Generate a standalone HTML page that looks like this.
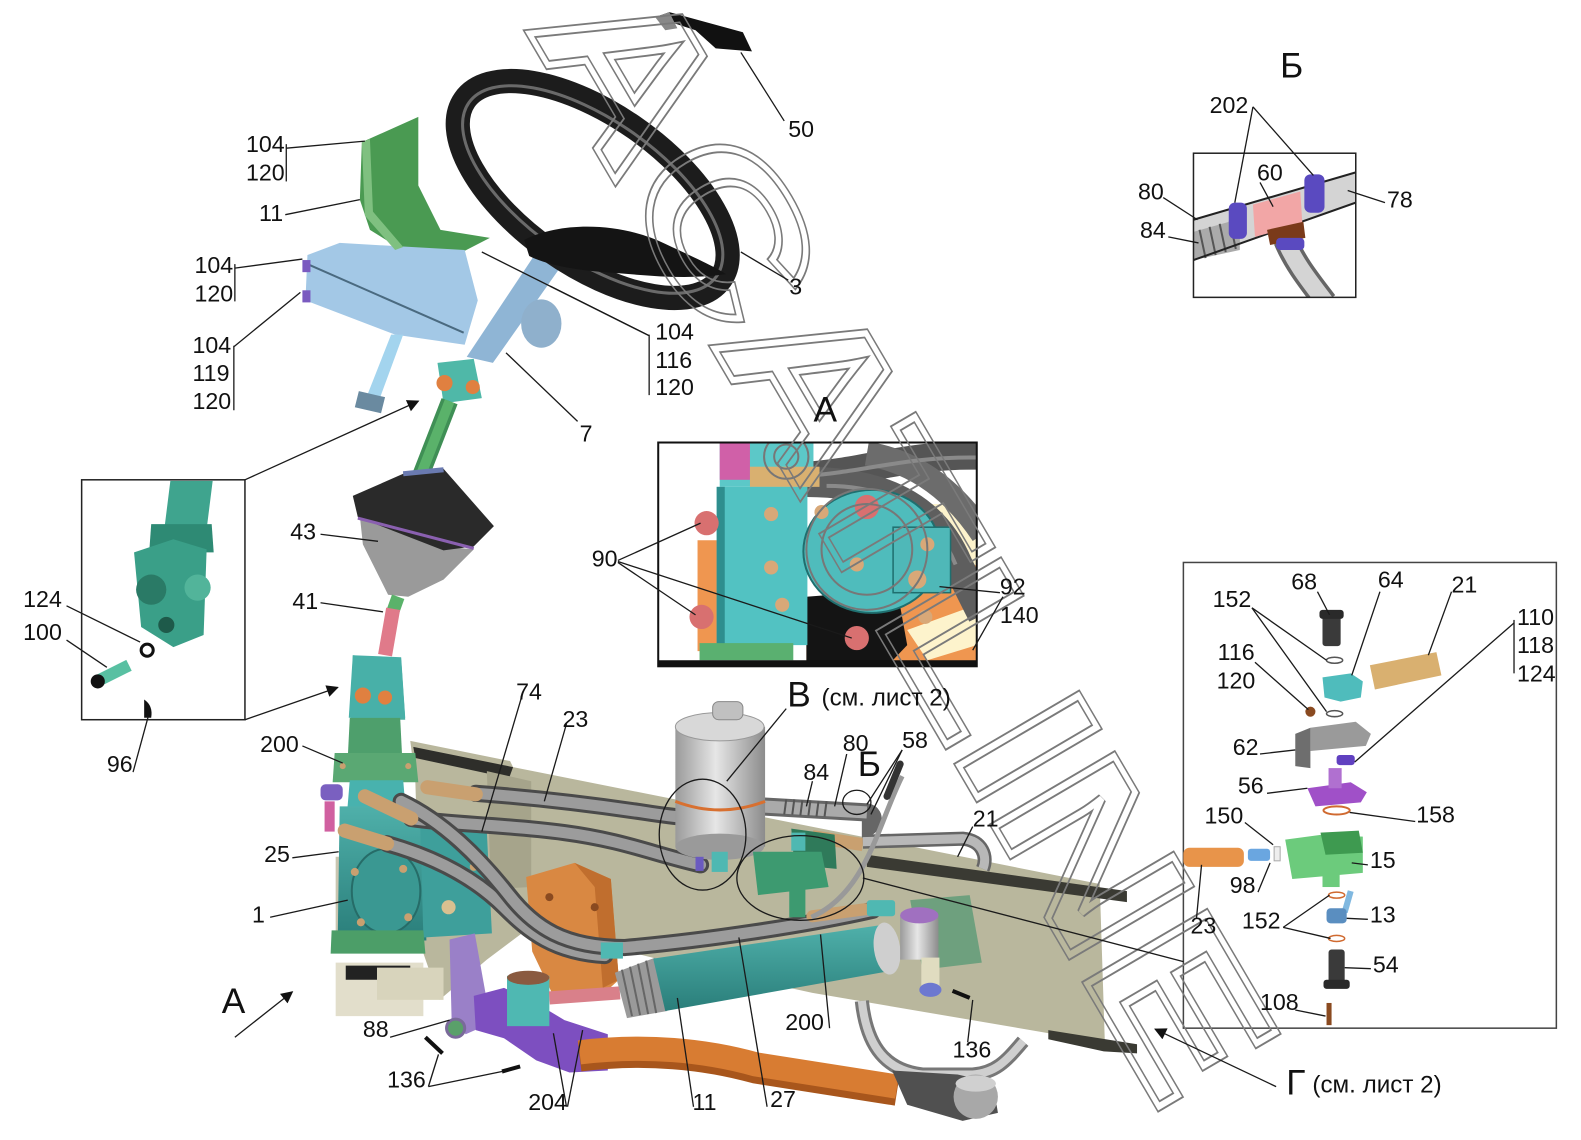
<!DOCTYPE html>
<html><head><meta charset="utf-8"><style>
html,body{margin:0;padding:0;background:#fff;}
svg{display:block;}
.n,.b,.s{font-family:"Liberation Sans",Arial,sans-serif;fill:#111;}
.n{font-size:23px;}
.b{font-size:35px;}
.s{font-size:24px;}
.l{stroke:#1a1a1a;stroke-width:1.3;fill:none;}
</style></head><body>
<svg width="1581" height="1140" viewBox="0 0 1581 1140" xmlns="http://www.w3.org/2000/svg">
<defs>
<marker id="ar" viewBox="0 0 10 10" refX="9" refY="5" markerWidth="14" markerHeight="12" orient="auto" markerUnits="userSpaceOnUse"><path d="M0,0 L10,5 L0,10 z" fill="#111"/></marker>
<linearGradient id="cyl" x1="0" y1="0" x2="1" y2="0"><stop offset="0" stop-color="#9a9a9a"/><stop offset="0.45" stop-color="#e6e6e6"/><stop offset="1" stop-color="#8c8c8c"/></linearGradient>
<linearGradient id="tl" x1="0" y1="0" x2="0" y2="1"><stop offset="0" stop-color="#4fb0aa"/><stop offset="1" stop-color="#2a7e7a"/></linearGradient>
<clipPath id="cA"><rect x="653" y="439" width="316" height="222"/></clipPath>
<clipPath id="cB"><rect x="1184" y="152" width="161" height="143"/></clipPath>
<mask id="wm" maskUnits="userSpaceOnUse" x="0" y="0" width="1600" height="1160">
<rect x="0" y="0" width="1600" height="1160" style="fill:#000"/>
<text x="0" y="0" transform="translate(522,28) rotate(59.6)" font-family="Liberation Sans, sans-serif" font-weight="bold" font-size="200" textLength="1250" lengthAdjust="spacingAndGlyphs" style="fill:none;stroke:#fff;stroke-width:8">ACATLINE</text>
<text x="0" y="0" transform="translate(522,28) rotate(59.6)" font-family="Liberation Sans, sans-serif" font-weight="bold" font-size="200" textLength="1250" lengthAdjust="spacingAndGlyphs" style="fill:none;stroke:#000;stroke-width:5">ACATLINE</text>
</mask>
</defs>
<rect width="1581" height="1140" fill="#fff"/>
<g transform="scale(1.008)">

<!-- ================= FRAME BEAM ================= -->
<polygon points="407,735 506,755 509,761 1091,877 1096,1032 1052,1027 806,985 655,952 615,942 523,922 483,952 436,992 417,937 412,774" fill="#b9b79d"/>
<polygon points="410,741 509,761 505,772 412,752" fill="#2e2e2a"/>
<polygon points="860,848 1118,884 1118,895 860,860" fill="#3a3a33"/>
<polygon points="1040,1022 1128,1036 1128,1045 1095,1043 1040,1031" fill="#3a3a33"/>
<polygon points="483,765 527,775 527,880 487,882" fill="#a6a48b"/>
<polygon points="333,955 420,955 420,1008 333,1008" fill="#e2decb"/>
<polygon points="343,958 407,958 407,972 343,972" fill="#222"/>
<polygon points="374,960 440,960 440,992 374,992" fill="#d8d4bc"/>
<polygon points="333,850 343,850 343,935 333,935" fill="#c9c5b0"/>

<!-- orange bracket -->
<polygon points="522,870 570,856 606,872 614,972 592,992 548,986 528,944" fill="#d98842"/>
<polygon points="570,856 606,872 614,972 598,980 590,880" fill="#c06e2e"/>
<circle cx="545" cy="890" r="4" fill="#8a4a20"/><circle cx="590" cy="900" r="4" fill="#8a4a20"/><circle cx="595" cy="950" r="4" fill="#8a4a20"/>

<!-- silver pipe -->
<path d="M855,993 C860,1040 880,1062 915,1066 L965,1066 C990,1064 1000,1050 1015,1033" fill="none" stroke="#777" stroke-width="14"/>
<path d="M855,993 C860,1040 880,1062 915,1066 L965,1066 C990,1064 1000,1050 1015,1033" fill="none" stroke="#cfcfcf" stroke-width="8"/>

<!-- ================= STEERING GEAR ================= -->
<polygon points="350,650 398,655 402,714 348,714" fill="#4bb0a4"/>
<polygon points="347,712 397,712 399,752 345,752" fill="#4e9f6c"/>
<polygon points="332,747 412,747 415,776 330,776" fill="#5aa873"/>
<polygon points="347,774 400,774 404,822 343,822" fill="#48b2ae"/>
<polygon points="337,800 420,800 423,933 335,933" fill="url(#tl)"/>
<polygon points="417,820 483,826 488,926 420,930" fill="#3e9f9b"/>
<ellipse cx="383" cy="884" rx="34" ry="42" fill="#3a9892" stroke="#266c68" stroke-width="2"/>
<polygon points="329,923 420,923 422,946 328,946" fill="#4c9e68"/>
<circle cx="352" cy="865" r="4" fill="#c9a070"/><circle cx="400" cy="862" r="4" fill="#c9a070"/><circle cx="358" cy="915" r="4" fill="#c9a070"/><circle cx="405" cy="910" r="4" fill="#c9a070"/><circle cx="445" cy="900" r="7" fill="#d8c090"/><circle cx="470" cy="860" r="4" fill="#c9a070"/>
<circle cx="340" cy="760" r="3" fill="#c9a070"/><circle cx="405" cy="760" r="3" fill="#c9a070"/>
<rect x="318" y="778" width="22" height="16" rx="5" fill="#7a60c0"/>
<rect x="322" y="795" width="10" height="30" fill="#d060a0"/>

<!-- pitman arm & knuckle -->
<polygon points="446,932 471,926 487,1015 462,1026 448,1010" fill="#9a80c8"/>
<polygon points="470,988 500,980 530,994 560,1012 603,1026 603,1062 565,1064 532,1052 500,1030 472,1022" fill="#7d4fc0"/>
<circle cx="452" cy="1020" r="9" fill="#5aa06a" stroke="#7a6a9a" stroke-width="3"/>
<rect x="503" y="968" width="42" height="50" fill="#4fb8b2"/>
<ellipse cx="524" cy="970" rx="21" ry="7" fill="#8a5a40"/>
<line x1="545" y1="990" x2="615" y2="985" stroke="#d9808a" stroke-width="13"/>

<!-- ================= HOSES ================= -->
<g fill="none" stroke-linecap="round">
<path d="M472,787 C540,792 600,800 640,806 S690,812 700,812" stroke="#4a4a4a" stroke-width="17"/>
<path d="M472,787 C540,792 600,800 640,806 S690,812 700,812" stroke="#9c9c9c" stroke-width="11"/>
<path d="M408,812 C450,818 500,818 560,826 S650,848 695,858" stroke="#4a4a4a" stroke-width="17"/>
<path d="M408,812 C450,818 500,818 560,826 S650,848 695,858" stroke="#9c9c9c" stroke-width="11"/>
<path d="M384,837 C430,850 470,870 500,900 C525,925 550,945 600,948" stroke="#4a4a4a" stroke-width="17"/>
<path d="M384,837 C430,850 470,870 500,900 C525,925 550,945 600,948" stroke="#9c9c9c" stroke-width="11"/>
<path d="M398,795 C440,815 475,850 505,888 C530,920 560,940 620,940 C700,933 800,918 866,903" stroke="#4a4a4a" stroke-width="17"/>
<path d="M398,795 C440,815 475,850 505,888 C530,920 560,940 620,940 C700,933 800,918 866,903" stroke="#9c9c9c" stroke-width="11"/>
<path d="M424,781 L472,788" stroke="#c9a070" stroke-width="14"/>
<path d="M362,790 L408,812" stroke="#c9a070" stroke-width="14"/>
<path d="M342,824 L384,837" stroke="#c9a070" stroke-width="14"/>
<path d="M806,909 L858,902" stroke="#c9a070" stroke-width="12"/>
</g>
<rect x="860" y="893" width="28" height="16" rx="3" fill="#4fb8b2"/>
<rect x="596" y="935" width="22" height="16" fill="#4fb8b2"/>

<!-- ================= POWER CYLINDER ================= -->
<polygon points="610,965 650,950 662,1003 622,1010" fill="#9a9a9a"/>
<g stroke="#666" stroke-width="2"><line x1="617" y1="962" x2="627" y2="1008"/><line x1="625" y1="959" x2="635" y2="1007"/><line x1="633" y1="956" x2="643" y2="1006"/><line x1="641" y1="953" x2="651" y2="1005"/></g>
<polygon points="648,951 872,918 890,962 660,1003" fill="url(#tl)"/>
<ellipse cx="880" cy="941" rx="13" ry="26" fill="#cfcfcf" transform="rotate(-8 880 941)"/>

<!-- tie rod -->
<path d="M575,1048 C640,1040 700,1046 750,1060 L890,1082" fill="none" stroke="#a8561c" stroke-width="30"/>
<path d="M575,1044 C640,1036 700,1042 750,1056 L890,1078" fill="none" stroke="#d87c32" stroke-width="24"/>
<polygon points="885,1062 950,1066 985,1074 990,1104 955,1112 900,1096" fill="#505050"/>
<ellipse cx="968" cy="1088" rx="22" ry="22" fill="#a8a8a8"/>
<ellipse cx="968" cy="1075" rx="20" ry="8" fill="#d0d0d0"/>

<!-- ================= FILTER & VALVE ================= -->
<path d="M756,800 L860,806 C870,808 866,822 855,822" fill="none" stroke="#666" stroke-width="18"/>
<path d="M756,800 L860,806" fill="none" stroke="#aaa" stroke-width="12"/>
<g stroke="#555" stroke-width="2"><line x1="780" y1="793" x2="778" y2="808"/><line x1="788" y1="793" x2="786" y2="808"/><line x1="796" y1="794" x2="794" y2="809"/><line x1="804" y1="794" x2="802" y2="809"/><line x1="812" y1="795" x2="810" y2="810"/><line x1="820" y1="795" x2="818" y2="810"/></g>
<rect x="670" y="721" width="89" height="119" fill="url(#cyl)"/>
<ellipse cx="714" cy="840" rx="44" ry="13" fill="#9a9a9a"/>
<ellipse cx="714" cy="721" rx="44" ry="14" fill="#d8d8d8" stroke="#999"/>
<rect x="707" y="696" width="30" height="18" rx="6" fill="#c0c0c0" stroke="#888"/>
<path d="M670,795 Q714,812 759,795" fill="none" stroke="#d87030" stroke-width="3"/>
<rect x="706" y="845" width="16" height="20" fill="#4fb8b2"/>
<rect x="690" y="850" width="8" height="14" fill="#6a5ac0"/>
<path d="M806,830 L856,838" stroke="#c9a070" stroke-width="13"/>
<path d="M856,835 L955,832 C975,834 980,850 975,862" fill="none" stroke="#666" stroke-width="14"/>
<path d="M856,835 L955,832 C975,834 980,850 975,862" fill="none" stroke="#b8b8b8" stroke-width="9"/>
<polygon points="785,822 828,828 830,862 788,858" fill="#2f7a5a"/>
<polygon points="747,845 815,845 822,880 752,888" fill="#3d9a70"/>
<rect x="783" y="880" width="16" height="30" fill="#3d9a70"/>
<rect x="785" y="826" width="14" height="18" fill="#4fb8b2"/>
<path d="M805,910 C860,885 870,820 895,770" fill="none" stroke="#999" stroke-width="5"/>
<path d="M880,790 L893,758" stroke="#333" stroke-width="7" stroke-linecap="round"/>

<!-- pump -->
<polygon points="903,893 962,888 974,955 915,962" fill="#6ea07e"/>
<rect x="893" y="908" width="38" height="44" fill="url(#cyl)"/>
<ellipse cx="912" cy="908" rx="19" ry="8" fill="#a070c0"/>
<rect x="914" y="950" width="18" height="28" fill="#e0dcc0"/>
<ellipse cx="923" cy="982" rx="11" ry="7" fill="#6d78d0"/>
<line x1="945" y1="983" x2="962" y2="990" stroke="#111" stroke-width="4"/>

<!-- ================= COLUMN ================= -->
<polygon points="357,198 367,228 402,250 451,254 486,236 437,228 415,184 415,116 359,141" fill="#4a9a52"/>
<polygon points="305,253 337,241 461,248 474,298 461,342 392,332 303,298" fill="#a3c8e6"/>
<line x1="305" y1="262" x2="460" y2="330" stroke="#4a6a80" stroke-width="2"/>
<polygon points="359,141 367,138 370,210 400,245 392,248 362,214" fill="#7fc080"/>
<polygon points="388,332 400,332 375,400 362,398" fill="#a3d4ee"/>
<polygon points="356,388 382,394 378,410 352,404" fill="#6a8aa0"/>
<rect x="300" y="258" width="8" height="12" fill="#7a5ac0"/><rect x="300" y="288" width="8" height="12" fill="#7a5ac0"/>
<polygon points="529,255 556,265 489,360 463,354" fill="#8fb5d5"/>
<ellipse cx="537" cy="321" rx="20" ry="24" fill="#8fb0cc"/>
<polygon points="434,360 470,356 478,395 440,400" fill="#4fb8a8"/>
<circle cx="441" cy="380" r="8" fill="#e08040"/><circle cx="469" cy="384" r="7" fill="#e08040"/>
<line x1="446" y1="398" x2="418" y2="470" stroke="#3f8f55" stroke-width="17"/>
<line x1="446" y1="398" x2="418" y2="470" stroke="#5ab26a" stroke-width="10"/>

<!-- steering wheel -->
<ellipse cx="588" cy="188" rx="155" ry="74" transform="rotate(35 588 188)" fill="none" stroke="#1c1c1c" stroke-width="24"/>
<ellipse cx="588" cy="188" rx="150" ry="69" transform="rotate(35 588 188)" fill="none" stroke="#6a6a6a" stroke-width="3"/>
<path d="M520,238 C560,218 620,222 660,242 C690,256 712,266 720,272 C680,278 640,273 600,270 C570,268 540,262 525,254 Z" fill="#141414"/>
<polygon points="650,17 664,12 737,32 746,51 710,48 690,30" fill="#111"/>
<polygon points="650,17 664,12 672,28 660,30" fill="#888"/>

<!-- boot & box -->
<polygon points="357,512 440,542 470,545 440,575 405,592 385,590 360,540" fill="#9a9a9a"/>
<polygon points="350,492 400,470 440,465 490,522 470,542 440,546 355,513" fill="#2a2a2a"/>
<line x1="355" y1="514" x2="470" y2="544" stroke="#8a60b0" stroke-width="3"/>
<line x1="400" y1="470" x2="440" y2="466" stroke="#6a7ab0" stroke-width="5"/>
<line x1="395" y1="592" x2="390" y2="606" stroke="#5ab26a" stroke-width="13"/>
<line x1="390" y1="604" x2="382" y2="650" stroke="#e07a8a" stroke-width="14"/>
<polygon points="350,650 398,652 402,712 346,712" fill="#48b0a8"/>
<circle cx="360" cy="690" r="8" fill="#e08040"/><circle cx="382" cy="692" r="7" fill="#e08040"/>

<!-- ================= LEFT INSET ================= -->
<rect x="81" y="476" width="162" height="238" fill="#fff" stroke="#222" stroke-width="1.5"/>
<polygon points="169,477 211,477 205,525 163,525" fill="#3fa48e"/>
<polygon points="150,520 210,520 212,548 148,548" fill="#2e8a74"/>
<polygon points="133,548 172,535 205,545 202,630 172,642 140,622" fill="#3a9f88"/>
<circle cx="150" cy="585" r="15" fill="#2a7a66"/><circle cx="196" cy="583" r="13" fill="#52b49a"/>
<circle cx="165" cy="620" r="8" fill="#1e5a4a"/>
<circle cx="146" cy="645" r="6" fill="none" stroke="#111" stroke-width="3"/>
<line x1="98" y1="675" x2="128" y2="660" stroke="#58c0a2" stroke-width="12"/>
<circle cx="97" cy="676" r="7" fill="#111"/>
<path d="M143,694 Q152,700 150,712 L143,712 Z" fill="#111"/>

<!-- ================= INSET A ================= -->
<rect x="653" y="439" width="316" height="222" fill="#fff"/>
<g clip-path="url(#cA)">
<rect x="880" y="500" width="89" height="161" fill="#fdf3cc"/>
<polygon points="692,536 716,536 716,646 692,646" fill="#ef9650"/>
<polygon points="800,605 930,578 969,560 969,661 800,661" fill="#ef9650"/>
<polygon points="900,625 969,600 969,640 920,655" fill="#fdf3cc"/>
<polygon points="800,592 890,585 900,640 880,661 800,661" fill="#141414"/>
<path d="M800,472 C860,468 900,450 975,452" fill="none" stroke="#555" stroke-width="28"/>
<path d="M800,478 C870,478 925,500 950,560 L975,610" fill="none" stroke="#5e5e5e" stroke-width="30"/>
<path d="M860,450 C920,460 955,500 975,530" fill="none" stroke="#6c6c6c" stroke-width="24"/>
<path d="M800,472 C860,468 900,452 975,454" fill="none" stroke="#8a8a8a" stroke-width="4"/>
<path d="M820,482 C880,482 925,505 948,560" fill="none" stroke="#8a8a8a" stroke-width="4"/>
<rect x="714" y="439" width="93" height="44" fill="#5cc8c8"/>
<rect x="714" y="439" width="30" height="37" fill="#d060a8"/>
<rect x="744" y="463" width="69" height="20" fill="#d9b070"/>
<polygon points="711,483 801,483 801,640 711,640" fill="#52c2c2"/>
<rect x="711" y="483" width="8" height="157" fill="#2e8e8e"/>
<ellipse cx="865" cy="547" rx="68" ry="61" fill="#4fbcbc" stroke="#1f6f6f" stroke-width="2"/>
<rect x="886" y="523" width="57" height="65" fill="#4fb8b8" stroke="#1f6f6f" stroke-width="1.5"/>
<rect x="694" y="638" width="93" height="17" fill="#5ab070"/>
<rect x="653" y="655" width="316" height="6" fill="#111"/>
<g fill="#d87070"><circle cx="701" cy="519" r="12"/><circle cx="696" cy="612" r="12"/><circle cx="850" cy="633" r="12"/><circle cx="860" cy="503" r="12"/></g>
<g fill="#d8a878"><circle cx="765" cy="510" r="7"/><circle cx="765" cy="563" r="7"/><circle cx="776" cy="600" r="7"/><circle cx="815" cy="508" r="7"/><circle cx="850" cy="560" r="7"/><circle cx="920" cy="540" r="7"/><circle cx="910" cy="575" r="9"/><circle cx="918" cy="612" r="7"/></g>
<g fill="none" stroke="#777" stroke-width="2"><circle cx="780" cy="453" r="22"/><circle cx="780" cy="453" r="12"/><circle cx="860" cy="545" r="60"/><circle cx="860" cy="545" r="45"/></g>
</g>
<rect x="653" y="439" width="316" height="222" fill="none" stroke="#111" stroke-width="2"/>

<!-- ================= INSET Б ================= -->
<rect x="1184" y="152" width="161" height="143" fill="#fff"/>
<g clip-path="url(#cB)">
<path d="M1275,238 C1285,262 1300,280 1315,300" fill="none" stroke="#666" stroke-width="24"/>
<path d="M1275,238 C1285,262 1300,280 1315,300" fill="none" stroke="#d4d4d4" stroke-width="17"/>
<polygon points="1184,218 1345,171 1345,201 1184,258" fill="#d4d4d4"/>
<polygon points="1184,230 1230,217 1230,248 1184,258" fill="#aaa"/>
<g stroke="#555" stroke-width="2"><line x1="1190" y1="228" x2="1196" y2="256"/><line x1="1200" y1="225" x2="1206" y2="253"/><line x1="1210" y1="222" x2="1216" y2="250"/><line x1="1220" y1="219" x2="1226" y2="247"/></g>
<line x1="1184" y1="218" x2="1345" y2="171" stroke="#222" stroke-width="2"/>
<line x1="1184" y1="258" x2="1345" y2="201" stroke="#222" stroke-width="2"/>
<polygon points="1243,203 1290,190 1292,222 1245,235" fill="#f2a6a6"/>
<polygon points="1257,228 1293,220 1295,236 1260,243" fill="#7a3a1a"/>
<rect x="1219" y="201" width="18" height="36" rx="6" fill="#5a4ac0"/>
<rect x="1294" y="173" width="20" height="38" rx="6" fill="#5a4ac0"/>
<rect x="1266" y="236" width="28" height="12" rx="4" fill="#5a4ac0"/>
</g>
<rect x="1184" y="152" width="161" height="143" fill="none" stroke="#222" stroke-width="1.5"/>

<!-- ================= RIGHT INSET ================= -->
<rect x="1174" y="558" width="370" height="462" fill="#fff" stroke="#444" stroke-width="1.5"/>
<rect x="1312" y="608" width="18" height="33" rx="3" fill="#3a3a3a"/>
<rect x="1309" y="605" width="24" height="9" rx="3" fill="#2a2a2a"/>
<ellipse cx="1324" cy="655" rx="8" ry="3" fill="none" stroke="#555" stroke-width="1.5"/>
<polygon points="1312,672 1340,668 1352,676 1350,692 1330,696 1314,692" fill="#4fbcbc"/>
<polygon points="1359,660 1425,647 1430,670 1364,684" fill="#d9b070"/>
<ellipse cx="1300" cy="706" rx="5" ry="5" fill="#8a4a20"/>
<ellipse cx="1324" cy="708" rx="8" ry="3" fill="none" stroke="#555" stroke-width="1.5"/>
<polygon points="1300,722 1345,716 1360,728 1355,740 1300,745" fill="#9a9a9a"/>
<polygon points="1285,728 1300,722 1300,762 1285,760" fill="#6e6e6e"/>
<rect x="1326" y="749" width="18" height="10" rx="3" fill="#6040c0"/>
<polygon points="1297,782 1340,776 1356,786 1350,796 1305,800" fill="#a050c8"/>
<rect x="1318" y="762" width="13" height="20" fill="#b070d0"/>
<ellipse cx="1326" cy="804" rx="13" ry="4" fill="none" stroke="#d06a30" stroke-width="2"/>
<polygon points="1275,833 1312,828 1352,830 1352,866 1282,872" fill="#6ccb7c"/>
<polygon points="1310,826 1348,824 1352,846 1315,848" fill="#3e9a50"/>
<rect x="1312" y="866" width="17" height="14" fill="#6ccb7c"/>
<rect x="1238" y="842" width="22" height="12" rx="3" fill="#6aa6e0"/>
<rect x="1264" y="840" width="6" height="14" fill="#eee" stroke="#aaa"/>
<rect x="1174" y="841" width="60" height="19" rx="6" fill="#e8944a"/>
<ellipse cx="1326" cy="888" rx="8" ry="3" fill="none" stroke="#d06a30" stroke-width="1.5"/>
<line x1="1340" y1="884" x2="1334" y2="905" stroke="#80b8e0" stroke-width="6"/>
<rect x="1316" y="901" width="20" height="15" rx="4" fill="#5a8ec0"/>
<ellipse cx="1326" cy="931" rx="8" ry="3" fill="none" stroke="#d06a30" stroke-width="1.5"/>
<rect x="1318" y="942" width="16" height="36" rx="3" fill="#3a3a3a"/>
<rect x="1313" y="972" width="26" height="9" rx="3" fill="#2a2a2a"/>
<rect x="1316" y="995" width="5" height="22" fill="#8a4a20"/>

<!-- ================= WATERMARK ================= -->
<rect x="0" y="0" width="1600" height="1160" fill="#7a7a7a" mask="url(#wm)"/>

<!-- ================= LEADERS ================= -->
<g class="l">
<line x1="735" y1="52" x2="778" y2="120"/>
<polyline points="284,143 284,180"/><line x1="284" y1="147" x2="362" y2="140"/>
<line x1="283" y1="213" x2="357" y2="198"/>
<polyline points="233,262 233,299"/><line x1="233" y1="266" x2="300" y2="257"/>
<polyline points="232,343 232,407"/><line x1="232" y1="344" x2="298" y2="290"/>
<polyline points="644,332 644,392"/><line x1="644" y1="333" x2="478" y2="250"/><line x1="644" y1="333" x2="546" y2="284"/>
<line x1="782" y1="278" x2="735" y2="250"/>
<line x1="573" y1="418" x2="502" y2="350"/>
<line x1="243" y1="476" x2="415" y2="398" marker-end="url(#ar)"/>
<line x1="243" y1="714" x2="335" y2="682" marker-end="url(#ar)"/>
<line x1="318" y1="530" x2="375" y2="537"/>
<line x1="318" y1="598" x2="380" y2="607"/>
<line x1="66" y1="601" x2="139" y2="637"/>
<line x1="66" y1="635" x2="106" y2="662"/>
<line x1="132" y1="766" x2="147" y2="711"/>
<line x1="300" y1="740" x2="340" y2="757"/>
<line x1="290" y1="851" x2="336" y2="845"/>
<line x1="268" y1="910" x2="345" y2="893"/>
<line x1="517" y1="693" x2="478" y2="825"/>
<line x1="562" y1="718" x2="540" y2="795"/>
<line x1="780" y1="703" x2="721" y2="775"/>
<ellipse cx="697" cy="828" rx="43" ry="55"/>
<ellipse cx="794" cy="871" rx="63" ry="42"/>
<ellipse cx="850" cy="796" rx="14" ry="12"/>
<line x1="806" y1="775" x2="800" y2="800"/>
<line x1="840" y1="748" x2="828" y2="800"/>
<line x1="895" y1="744" x2="860" y2="798"/><line x1="895" y1="744" x2="864" y2="808"/>
<line x1="965" y1="820" x2="950" y2="850"/>
<line x1="856" y1="871" x2="1174" y2="954"/>
<line x1="233" y1="1029" x2="290" y2="984" marker-end="url(#ar)"/>
<line x1="387" y1="1029" x2="446" y2="1012"/>
<line x1="425" y1="1078" x2="435" y2="1046"/><line x1="425" y1="1078" x2="498" y2="1063"/>
<line x1="562" y1="1098" x2="549" y2="1025"/><line x1="563" y1="1098" x2="578" y2="1022"/>
<line x1="688" y1="1098" x2="672" y2="990"/>
<line x1="761" y1="1098" x2="733" y2="930"/>
<line x1="823" y1="1020" x2="814" y2="927"/>
<line x1="960" y1="1034" x2="965" y2="992"/>
<line x1="1266" y1="1078" x2="1146" y2="1021" marker-end="url(#ar)"/>
<line x1="613" y1="556" x2="695" y2="519"/><line x1="613" y1="558" x2="690" y2="610"/><line x1="613" y1="557" x2="845" y2="633"/>
<line x1="992" y1="588" x2="932" y2="582"/><line x1="995" y1="592" x2="965" y2="645"/>
<line x1="1243" y1="106" x2="1225" y2="201"/><line x1="1243" y1="106" x2="1303" y2="174"/>
<line x1="1154" y1="196" x2="1188" y2="218"/><line x1="1159" y1="235" x2="1189" y2="241"/>
<line x1="1250" y1="181" x2="1263" y2="205"/><line x1="1374" y1="201" x2="1337" y2="189"/>
<line x1="1242" y1="603" x2="1316" y2="655"/><line x1="1242" y1="603" x2="1316" y2="706"/>
<line x1="1307" y1="587" x2="1319" y2="610"/>
<line x1="1369" y1="587" x2="1341" y2="670"/>
<line x1="1440" y1="587" x2="1417" y2="650"/>
<polyline points="1502,615 1502,668"/><line x1="1502" y1="618" x2="1344" y2="756"/>
<line x1="1245" y1="657" x2="1298" y2="704"/>
<line x1="1250" y1="748" x2="1285" y2="744"/>
<line x1="1257" y1="787" x2="1297" y2="782"/>
<line x1="1404" y1="815" x2="1339" y2="806"/>
<line x1="1235" y1="816" x2="1263" y2="838"/>
<line x1="1248" y1="885" x2="1260" y2="856"/>
<line x1="1187" y1="911" x2="1192" y2="858"/>
<line x1="1357" y1="858" x2="1341" y2="856"/>
<line x1="1273" y1="920" x2="1319" y2="888"/><line x1="1273" y1="920" x2="1320" y2="931"/>
<line x1="1357" y1="912" x2="1336" y2="911"/>
<line x1="1360" y1="961" x2="1334" y2="960"/>
<line x1="1285" y1="1002" x2="1315" y2="1008"/>
</g>
<line x1="422" y1="1029" x2="439" y2="1045" stroke="#111" stroke-width="4"/>
<line x1="498" y1="1063" x2="516" y2="1058" stroke="#111" stroke-width="4"/>

<!-- ================= LABELS ================= -->
<g>
<text class="n" x="782" y="136">50</text>
<text class="n" x="244" y="151">104</text><text class="n" x="244" y="179">120</text>
<text class="n" x="257" y="219">11</text>
<text class="n" x="193" y="271">104</text><text class="n" x="193" y="299">120</text>
<text class="n" x="191" y="350">104</text><text class="n" x="191" y="378">119</text><text class="n" x="191" y="406">120</text>
<text class="n" x="650" y="337">104</text><text class="n" x="650" y="365">116</text><text class="n" x="650" y="392">120</text>
<text class="n" x="783" y="292">3</text>
<text class="n" x="575" y="438">7</text>
<text class="n" x="288" y="535">43</text>
<text class="n" x="290" y="604">41</text>
<text class="n" x="23" y="602">124</text><text class="n" x="23" y="635">100</text>
<text class="n" x="106" y="766">96</text>
<text class="n" x="258" y="746">200</text>
<text class="n" x="262" y="855">25</text>
<text class="n" x="250" y="915">1</text>
<text class="n" x="512" y="694">74</text>
<text class="n" x="558" y="721">23</text>
<text class="n" x="797" y="774">84</text>
<text class="n" x="836" y="745">80</text>
<text class="n" x="895" y="742">58</text>
<text class="n" x="965" y="820">21</text>
<text class="n" x="360" y="1029">88</text>
<text class="n" x="384" y="1079">136</text>
<text class="n" x="524" y="1101">204</text>
<text class="n" x="687" y="1101">11</text>
<text class="n" x="764" y="1098">27</text>
<text class="n" x="779" y="1022">200</text>
<text class="n" x="945" y="1049">136</text>
<text class="n" x="587" y="562">90</text>
<text class="n" x="992" y="590">92</text><text class="n" x="992" y="618">140</text>
<text class="n" x="1200" y="112">202</text>
<text class="n" x="1129" y="198">80</text>
<text class="n" x="1131" y="236">84</text>
<text class="n" x="1247" y="179">60</text>
<text class="n" x="1376" y="206">78</text>
<text class="n" x="1281" y="585">68</text>
<text class="n" x="1367" y="583">64</text>
<text class="n" x="1440" y="588">21</text>
<text class="n" x="1203" y="602">152</text>
<text class="n" x="1208" y="655">116</text><text class="n" x="1207" y="683">120</text>
<text class="n" x="1505" y="620">110</text><text class="n" x="1505" y="648">118</text><text class="n" x="1505" y="676">124</text>
<text class="n" x="1223" y="749">62</text>
<text class="n" x="1228" y="787">56</text>
<text class="n" x="1405" y="816">158</text>
<text class="n" x="1195" y="817">150</text>
<text class="n" x="1359" y="861">15</text>
<text class="n" x="1220" y="886">98</text>
<text class="n" x="1181" y="926">23</text>
<text class="n" x="1232" y="921">152</text>
<text class="n" x="1359" y="915">13</text>
<text class="n" x="1362" y="965">54</text>
<text class="n" x="1250" y="1002">108</text>
<text class="b" x="781" y="701">В</text>
<text class="b" x="851" y="770">Б</text>
<text class="b" x="220" y="1005">А</text>
<text class="b" x="1276" y="1086">Г</text>
<text class="b" x="807" y="418">А</text>
<text class="b" x="1270" y="77">Б</text>
<text class="s" x="815" y="700">(см. лист 2)</text>
<text class="s" x="1302" y="1084">(см. лист 2)</text>
</g>
</g>
</svg>
</body></html>
